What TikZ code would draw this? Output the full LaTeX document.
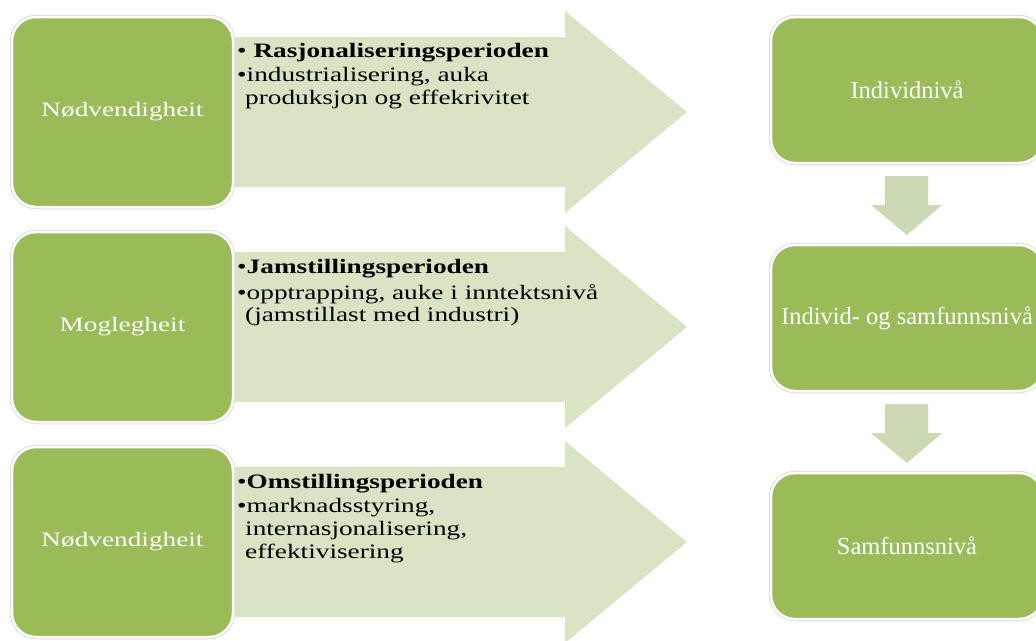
\documentclass[tikz,border=0pt]{standalone}
\usepackage{fontspec}
\setmainfont{Liberation Serif}
\newfontfamily\widefont[FakeStretch=1.33]{Liberation Serif}
\definecolor{boxgreen}{HTML}{9BBB59}
\definecolor{arrowlight}{HTML}{D9E4C4}
\definecolor{arrowdown}{HTML}{CCD9B5}
\tikzset{
  gbox/.style={fill=boxgreen, draw=white, line width=2.5pt, rounded corners=24pt,
    preaction={draw=black!13, line width=4.5pt, rounded corners=24pt}, inner sep=0pt},
  leftbox/.style={gbox, minimum width=221pt, minimum height=190pt,
    font=\widefont\fontsize{20.5}{24}\selectfont, text=white},
  rightbox/.style={gbox, minimum width=272pt, minimum height=146pt,
    font=\fontsize{24.5}{29}\selectfont, text=white},
  bultxt/.style={font=\widefont\fontsize{20.5}{23}\selectfont, anchor=base west, inner sep=0pt, text=black},
  bigarrow/.style={fill=arrowlight},
  downarrow/.style={fill=arrowdown},
}
\begin{document}
\begin{tikzpicture}[x=1pt,y=-1pt]
\useasboundingbox (0,0) rectangle (1036,640);
% big right-pointing arrows
\foreach \c in {112,327,542}{
  \fill[bigarrow] (225,\c-75) -- (565,\c-75) -- (565,\c-101) -- (687,\c)
    -- (565,\c+101) -- (565,\c+75) -- (225,\c+75) -- cycle;
}
% left boxes
\node[leftbox] (l1) at (122.5,112) {Nødvendigheit};
\node[leftbox] (l2) at (122.5,327) {Moglegheit};
\node[leftbox] (l3) at (122.5,542) {Nødvendigheit};
% bullet texts
\node[bultxt] (t1a) at (237,57) {• \textbf{Rasjonaliseringsperioden}};
\node[bultxt] (t1b) at (237,81) {•industrialisering, auka};
\node[bultxt] (t1c) at (245,104) {produksjon og effekrivitet};
\node[bultxt] (t2a) at (237,273) {•\textbf{Jamstillingsperioden}};
\node[bultxt] (t2b) at (237,299) {•opptrapping, auke i inntektsnivå};
\node[bultxt] (t2c) at (245,321) {(jamstillast med industri)};
\node[bultxt] (t3a) at (237,488) {•\textbf{Omstillingsperioden}};
\node[bultxt] (t3b) at (237,512) {•marknadsstyring,};
\node[bultxt] (t3c) at (245,535) {internasjonalisering,};
\node[bultxt] (t3d) at (245,558) {effektivisering};
% right boxes
\node[rightbox] (r1) at (907,90) {Individnivå};
\node[rightbox] (r2) at (907,318) {Individ- og samfunnsnivå};
\node[rightbox] (r3) at (907,546) {Samfunnsnivå};
% down arrows
\fill[downarrow] (885,176) -- (928,176) -- (928,205) -- (942,205) -- (907,235)
  -- (871,205) -- (885,205) -- cycle;
\fill[downarrow] (885,404) -- (928,404) -- (928,433) -- (942,433) -- (907,463)
  -- (871,433) -- (885,433) -- cycle;
\end{tikzpicture}
\end{document}
